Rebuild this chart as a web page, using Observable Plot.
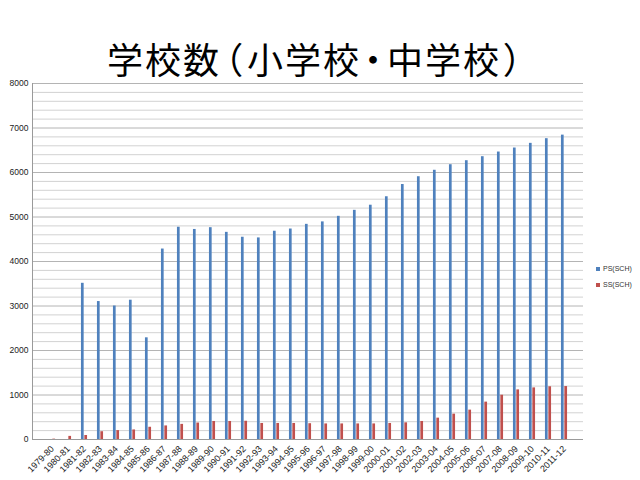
<!DOCTYPE html>
<html>
<head>
<meta charset="utf-8">
<script src="https://cdn.jsdelivr.net/npm/d3@7"></script>
<script src="https://cdn.jsdelivr.net/npm/@observablehq/plot@0.6"></script>
<style>
  html, body { margin: 0; padding: 0; background: #fff; }
  #wrap { position: relative; width: 640px; height: 480px; overflow: hidden; }
  #title { height: 76px; box-sizing: border-box; padding-top: 40px; font-family: "Noto Sans CJK JP", sans-serif; font-size: 36px; line-height: 1; text-align: center; color: #000; width: 634px; font-feature-settings: "palt"; letter-spacing: 2px; }
  #title .p { margin: 0 3px; }
  .leg { position: absolute; left: 596px; font-family: "Liberation Sans", Arial, sans-serif; font-size: 7px; color: #333; white-space: nowrap; }
  .leg span.sw { display: inline-block; width: 4px; height: 4px; margin-right: 3px; vertical-align: middle; }
</style>
</head>
<body>
<div id="wrap">
  <div id="title">学校数<span class="p">（</span>小学校<span class="p">・</span>中学校<span class="p">）</span></div>
  <div id="chart"></div>
  <div class="leg" style="top:265px"><span class="sw" style="background:#4F81BD"></span>PS(SCH)</div>
  <div class="leg" style="top:281px"><span class="sw" style="background:#C0504D"></span>SS(SCH)</div>
</div>
<script>
const years = ["1979-80","1980-81","1981-82","1982-83","1983-84","1984-85","1985-86","1986-87","1987-88","1988-89","1989-90","1990-91","1991-92","1992-93","1993-94","1994-95","1995-96","1996-97","1997-98","1998-99","1999-00","2000-01","2001-02","2002-03","2003-04","2004-05","2005-06","2006-07","2007-08","2008-09","2009-10","2010-11","2011-12"];
const psSch = [0, 0, 3510, 3100, 3000, 3130, 2285, 4280, 4770, 4720, 4760, 4655, 4545, 4530, 4680, 4730, 4835, 4890, 5015, 5150, 5265, 5455, 5730, 5905, 6050, 6175, 6265, 6355, 6460, 6550, 6655, 6760, 6840];
const ssSch = [8, 70, 90, 175, 200, 215, 275, 305, 340, 370, 405, 405, 410, 360, 360, 360, 355, 350, 350, 350, 350, 360, 375, 405, 480, 570, 660, 840, 995, 1115, 1160, 1185, 1190];
const seriesNames = ["PS(SCH)", "SS(SCH)"];
const seriesColors = ["#4F81BD", "#C0504D"];
const yMajorTicks = [0, 1000, 2000, 3000, 4000, 5000, 6000, 7000, 8000];
const yMinorTicks = d3.range(200, 8000, 200).filter(v => v % 1000 !== 0);

const psRows = years.map((y, i) => ({year: y, value: psSch[i]}));
const ssRows = years.map((y, i) => ({year: y, value: ssSch[i]}));

const W = 640, H = 404, mL = 32, mR = 57;
const bw = (W - mL - mR) / years.length;
const barW = 3.4;

const chart = Plot.plot({
  width: W,
  height: H,
  marginLeft: mL,
  marginRight: mR,
  marginTop: 7,
  marginBottom: 41,
  style: {fontFamily: "'Liberation Sans', Arial, sans-serif", fontSize: "9px", color: "#222", background: "#fff"},
  x: {domain: years, padding: 0, label: null},
  y: {domain: [0, 8000], label: null},
  marks: [
    Plot.ruleY(yMinorTicks, {stroke: "#d2d2d2", strokeWidth: 1}),
    Plot.ruleY(yMajorTicks, {stroke: "#b4b4b4", strokeWidth: 1}),
    Plot.barY(psRows, {x: "year", y: "value", fill: seriesColors[0], insetLeft: bw / 2 - barW, insetRight: bw / 2}),
    Plot.barY(ssRows, {x: "year", y: "value", fill: seriesColors[1], insetLeft: bw / 2, insetRight: bw / 2 - barW}),
    Plot.ruleY([0], {stroke: "#9a9a9a"}),
    Plot.frame({anchor: "left", stroke: "#9a9a9a"}),
    Plot.axisY({ticks: yMajorTicks, tickSize: 0, tickPadding: 4, fontSize: "8.5px", tickFormat: d => String(d), label: null}),
    Plot.axisX({tickRotate: -45, tickSize: 0, tickPadding: 8, label: null})
  ]
});
document.getElementById("chart").appendChild(chart);
</script>
</body>
</html>
